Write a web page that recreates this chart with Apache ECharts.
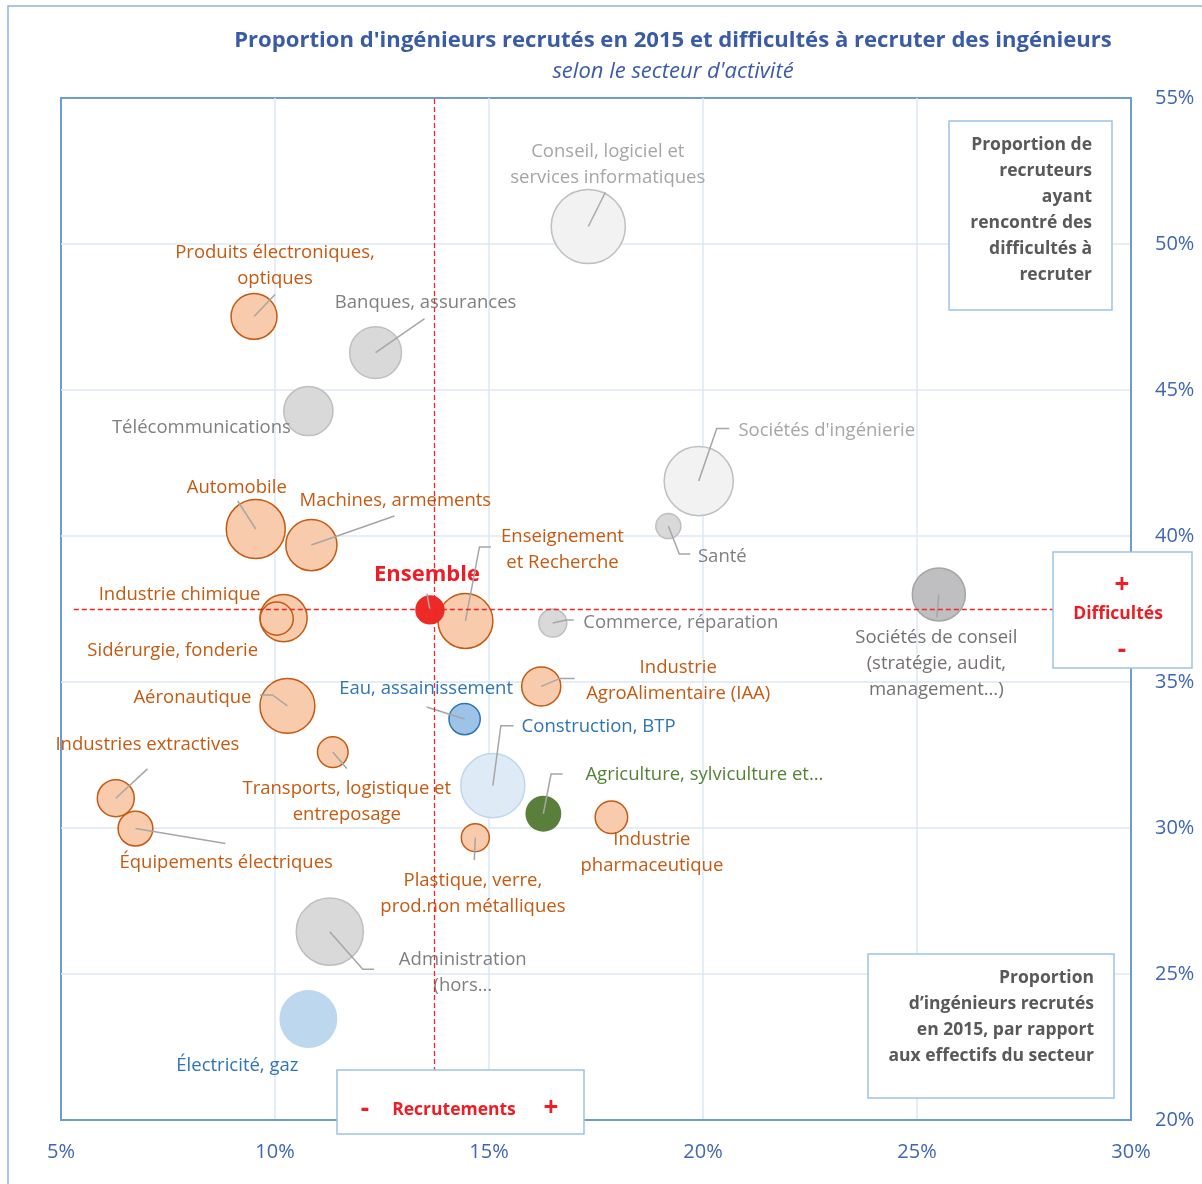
<!DOCTYPE html>
<html>
<head>
<meta charset="utf-8">
<script src="https://cdn.jsdelivr.net/npm/echarts@6/dist/echarts.min.js"></script>
<style>
  html, body { margin: 0; padding: 0; background: #fff; }
  #chart { width: 1202px; height: 1184px; }
</style>
</head>
<body>
<div id="chart"></div>
<script>
// secteurs d'activité (texte des étiquettes)
const secteurs = [
  "Conseil, logiciel et\nservices informatiques", "Produits électroniques,\noptiques", "Banques, assurances",
  "Télécommunications", "Sociétés d'ingénierie", "Santé", "Automobile", "Machines, armements",
  "Enseignement\net Recherche", "Industrie chimique", "Sidérurgie, fonderie", "Commerce, réparation",
  "Sociétés de conseil\n(stratégie, audit,\nmanagement…)", "Industrie\nAgroAlimentaire (IAA)", "Aéronautique",
  "Eau, assainissement", "Transports, logistique et\nentreposage", "Construction, BTP",
  "Agriculture, sylviculture et…", "Industries extractives", "Équipements électriques",
  "Industrie\npharmaceutique", "Plastique, verre,\nprod.non métalliques", "Administration\n(hors…",
  "Électricité, gaz", "Ensemble"
];
// proportion d'ingénieurs recrutés en 2015 (%)
const recrutement = [17.32, 9.51, 12.35, 10.78, 19.9, 19.19, 9.55, 10.85, 14.45, 10.2, 10.04, 16.49, 25.51,
  16.22, 10.29, 14.43, 11.35, 15.09, 16.27, 6.28, 6.74, 17.86, 14.68, 11.28, 10.78, 13.62];
// proportion de recruteurs ayant rencontré des difficultés (%)
const difficulte = [50.6, 47.52, 46.28, 44.28, 41.88, 40.34, 40.24, 39.69, 37.09, 37.19, 37.17, 37.02, 38.0,
  34.85, 34.18, 33.73, 32.6, 31.45, 30.49, 31.02, 29.98, 30.37, 29.67, 26.45, 23.46, 37.47];
// poids relatif du secteur (taille de la bulle)
const taille = [14.1, 5.5, 7.0, 6.3, 12.3, 1.7, 9.0, 6.8, 7.8, 5.8, 2.9, 2.1, 7.3, 4.0, 7.8, 2.6, 2.5, 10.6,
  3.4, 3.6, 3.2, 2.8, 2.1, 11.6, 8.7, 2.3];
const groupe = ["conseil", "industrie", "services", "services", "conseil", "services", "industrie", "industrie",
  "industrie", "industrie", "industrie", "services", "strategie", "industrie", "industrie", "eau", "industrie",
  "btp", "agri", "industrie", "industrie", "industrie", "industrie", "services", "energie", "ensemble"];
// moyennes (lignes pointillées)
const moyenneRecrutement = 13.71;
const moyenneDifficulte = 37.5;
const ticksX = [5, 10, 15, 20, 25, 30];
const ticksY = [20, 25, 30, 35, 40, 45, 50, 55];

// mise en page des étiquettes : décalage du texte et lignes de rappel (px, depuis le centre de la bulle)
const decalages = [
  [19.5, -63], [21, -52], [50, -51], [-107, 15], [128, -52], [54, 29], [-19, -43], [84, -46],
  [97, -73], [-104, -25], [-104, 31], [128, -2], [-2.5, 68], [137, -7.5], [-95, -10], [-38.5, -32],
  [14, 48], [105.7, -60], [161, -40], [31.6, -55], [90.7, 33], [40.5, 34], [-2.4, 54.7], [133, 39.5],
  [-71, 45.5], [-3, -37]
];
const rappels = {
  0: [[0, 0], [17, -34]],
  1: [[0, 0], [21, -22]],
  2: [[0, 0], [49, -34]],
  4: [[0, 0], [18, -52.5], [30.5, -52.5]],
  5: [[0, 0], [11, 28], [22, 28]],
  6: [[0, 0], [-18, -28]],
  7: [[0, 0], [83, -29]],
  8: [[0, 0], [14, -74], [25.5, -74]],
  11: [[0, 0], [13.5, -3], [21, -3]],
  12: [[0, 0], [-2, 23]],
  13: [[0, 0], [19, -8], [33.5, -8]],
  14: [[0, 0], [-15, -11], [-27.5, -11]],
  15: [[0, 0], [-38, -12]],
  16: [[0, 0], [14, 16.5]],
  17: [[0, 0], [8, -60], [20.7, -60]],
  18: [[0, 0], [7.7, -39.7], [19.2, -39.7]],
  19: [[0, 0], [31.7, -29.3]],
  20: [[0, 0], [90, 15]],
  22: [[0, 0], [-1, 22.5]],
  23: [[0, 0], [33, 37.6], [44.3, 37.6]],
  25: [[0, 0], [-3, -16]]
};

const styles = {
  industrie: { color: "#f8cbad", borderColor: "#c55a11", borderWidth: 1.5, opacity: 1 },
  services: { color: "#d9d9d9", borderColor: "#bfbfbf", borderWidth: 1.5, opacity: 1 },
  conseil: { color: "#f2f2f2", borderColor: "#bfbfbf", borderWidth: 1.5, opacity: 1 },
  strategie: { color: "#bfbfc1", borderColor: "#a6a6a6", borderWidth: 1.5, opacity: 1 },
  eau: { color: "#9dc3e6", borderColor: "#2e75b6", borderWidth: 1.5, opacity: 1 },
  btp: { color: "#deebf7", borderColor: "#bdd7ee", borderWidth: 1.5, opacity: 1 },
  energie: { color: "#bdd7ee", borderWidth: 0, opacity: 1 },
  agri: { color: "#5a7f3a", borderWidth: 0, opacity: 1 },
  ensemble: { color: "#ee2a26", borderWidth: 0, opacity: 1 }
};
const couleursTexte = {
  industrie: "#c55a11", services: "#7f7f7f", conseil: "#a6a6a6", strategie: "#767171",
  eau: "#2e75b6", btp: "#2e75b6", energie: "#2e75b6", agri: "#548235", ensemble: "#ee1c24"
};

const FONT = "'Open Sans', sans-serif";
const bleuAxe = "#6d9bd3";
const decalageTexte = 1.5;

let chartDom = document.getElementById("chart");
let myChart = echarts.init(chartDom);

let bulles = secteurs.map(function (nom, i) {
  let g = groupe[i];
  return {
    name: nom,
    value: [recrutement[i], difficulte[i], taille[i]],
    itemStyle: styles[g],
    label: {
      show: true,
      position: "inside",
      offset: [decalages[i][0], decalages[i][1] + decalageTexte],
      formatter: nom,
      color: couleursTexte[g],
      opacity: 1,
      fontFamily: FONT,
      fontSize: g === "ensemble" ? 22 : 18.5,
      fontWeight: g === "ensemble" ? "bold" : "normal",
      lineHeight: 26,
      align: "center",
      verticalAlign: "middle"
    }
  };
});

function boite(x, y, w, h, children) {
  return {
    type: "group",
    x: x,
    y: y,
    children: [{
      type: "rect",
      z: 100,
      shape: { x: 0, y: 0, width: w, height: h },
      style: { fill: "#fff", stroke: "#9dc3e6", lineWidth: 1.5 }
    }].concat(children)
  };
}
function texte(x, y, t, size, color, align, extra) {
  return {
    type: "text",
    z: 101,
    x: x,
    y: y,
    style: Object.assign({
      text: t, fill: color, align: align || "center", verticalAlign: "middle",
      font: "bold " + size + "px " + FONT, lineHeight: 26
    }, extra || {})
  };
}

let option = {
  animation: false,
  backgroundColor: "#fff",
  grid: {
    left: 61, right: 71, top: 98, bottom: 64,
    show: true, borderColor: bleuAxe, borderWidth: 2
  },
  xAxis: {
    type: "value",
    min: ticksX[0], max: ticksX[ticksX.length - 1], interval: 5,
    axisLine: { show: true, lineStyle: { color: bleuAxe, width: 2 } },
    axisTick: { show: false },
    splitLine: { show: true, showMinLine: false, showMaxLine: false, lineStyle: { color: "#dde9f6", width: 1.5 } },
    axisLabel: {
      margin: 22, color: "#3f66b2", fontSize: 20, fontFamily: FONT,
      formatter: "{value}%"
    }
  },
  yAxis: {
    type: "value",
    position: "right",
    min: ticksY[0], max: ticksY[ticksY.length - 1], interval: 5,
    axisLine: { show: true, lineStyle: { color: bleuAxe, width: 2 } },
    axisTick: { show: false },
    splitLine: { show: true, showMinLine: false, showMaxLine: false, lineStyle: { color: "#dde9f6", width: 1.5 } },
    axisLabel: {
      margin: 24, color: "#3f66b2", fontSize: 20, fontFamily: FONT,
      formatter: "{value}%"
    }
  },
  series: [
    {
      name: "Secteurs",
      type: "scatter",
      z: 2,
      symbol: "circle",
      symbolSize: function (v) {
        return 20 * Math.sqrt(v[2]) - 1;
      },
      data: bulles,
      emphasis: { disabled: true },
      markLine: {
        silent: true,
        symbol: "none",
        z: 5,
        label: { show: false },
        lineStyle: { color: "#f0262b", type: [5, 3], width: 1.3, opacity: 1 },
        data: [
          [{ coord: [moyenneRecrutement, ticksY[0]] }, { coord: [moyenneRecrutement, ticksY[ticksY.length - 1]] }],
          [{ coord: [5.3, moyenneDifficulte] }, { coord: [ticksX[ticksX.length - 1], moyenneDifficulte] }]
        ]
      }
    },
    {
      name: "Rappels",
      type: "custom",
      z: 4,
      silent: true,
      data: secteurs.map(function (n, i) { return [recrutement[i], difficulte[i], i]; }),
      renderItem: function (params, api) {
        let i = api.value(2);
        let pts = rappels[i];
        if (!pts) return { type: "group", children: [] };
        let c = api.coord([api.value(0), api.value(1)]);
        return {
          type: "polyline",
          shape: { points: pts.map(function (p) { return [c[0] + p[0], c[1] + p[1]]; }) },
          style: { stroke: "#a6a6a6", lineWidth: 1.5, fill: null }
        };
      }
    }
  ],
  graphic: [
    {
      type: "rect",
      shape: { x: 8, y: 6, width: 1300, height: 1300 },
      style: { fill: null, stroke: "#8db4e2", lineWidth: 1.5 },
      z: 0, silent: true
    },
    texte(673, 41, "Proportion d'ingénieurs recrutés en 2015 et difficultés à recruter des ingénieurs", 22.1, "#3a5ca6"),
    {
      type: "text", x: 673, y: 72, z: 101,
      style: { text: "selon le secteur d'activité", fill: "#3a5ca6", align: "center", verticalAlign: "middle",
        font: "italic 22px " + FONT }
    },
    boite(949, 121, 163, 189, [
      texte(143, 11, "Proportion de\nrecruteurs\nayant\nrencontré des\ndifficultés à\nrecruter", 17.5, "#595959", "right",
        { verticalAlign: "top" })
    ]),
    boite(1053, 552, 139, 116, [
      texte(69, 34, "+", 26, "#ee1c24"),
      texte(65, 62, "Difficultés", 17.5, "#ee1c24"),
      texte(69, 99, "-", 26, "#ee1c24")
    ]),
    boite(337, 1070, 247, 64, [
      texte(28, 40, "-", 26, "#ee1c24"),
      texte(117, 40, "Recrutements", 17.5, "#ee1c24"),
      texte(214, 39, "+", 26, "#ee1c24")
    ]),
    boite(868, 954, 246, 144, [
      texte(226, 11, "Proportion\nd’ingénieurs recrutés\nen 2015, par rapport\naux effectifs du secteur", 17.5, "#595959", "right",
        { verticalAlign: "top" })
    ])
  ]
};

option && myChart.setOption(option);
</script>
</body>
</html>
